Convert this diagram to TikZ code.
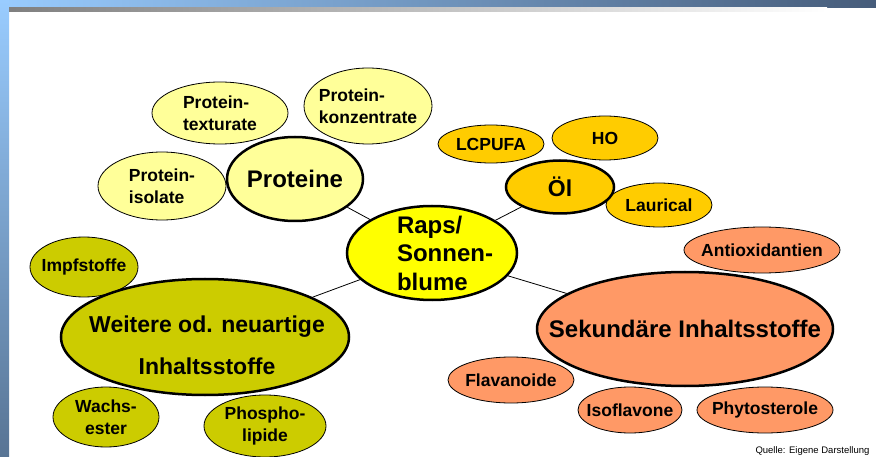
\documentclass[tikz,border=0pt]{standalone}
\usepackage{fontspec}
\setmainfont{Liberation Sans}
\usetikzlibrary{shapes.geometric}

\definecolor{framelight}{RGB}{153,204,255}
\definecolor{framedark}{RGB}{70,92,122}
\definecolor{framebottom}{RGB}{88,116,148}
\definecolor{rapsfill}{HTML}{FFFF00}
\definecolor{protfill}{HTML}{FFFF99}
\definecolor{oelfill}{HTML}{FFCC00}
\definecolor{sekfill}{HTML}{FF9966}
\definecolor{weitfill}{HTML}{CCCC00}

\tikzset{
  bubble/.style={ellipse, draw=black, line width=0.8pt, inner sep=-80pt,
    font=\bfseries\fontsize{17.5}{22}\selectfont, align=center},
  hub/.style={ellipse, draw=black, line width=2.5pt, inner sep=-80pt,
    font=\bfseries\fontsize{24}{28.5}\selectfont, align=center},
  size/.style 2 args={minimum width=#1pt, minimum height=#2pt},
  link/.style={draw=black, line width=0.8pt}
}

\begin{document}
\begin{tikzpicture}[x=1pt,y=-1pt]
            \useasboundingbox (0,0) rectangle (876,457);
            % Frame
            \shade [left color=framelight, right color=framedark] (0,0) rectangle (876,8);
            \shade [top color=framelight, bottom color=framebottom] (0,0) rectangle (9,457);
            \shade [left color=black!50, right color=white] (9,8) rectangle (827,12);

            % Proteine
            \node [bubble, fill=protfill, size={136}{62}, align=left] (texturate) at (220,113) {Protein-\\texturate};
            \node [bubble, fill=protfill, size={128}{76}, align=left] (konzentrate) at (368,106) {Protein-\\konzentrate};
            \node [bubble, fill=protfill, size={128}{68}, align=left] (isolate) at (162,186) {Protein-\\isolate};
            \node [hub, fill=protfill, size={136}{84}] (proteine) at (295,179) {Proteine};

            % Oel
            \node [bubble, fill=oelfill, size={106}{38}] (lcpufa) at (491,144) {LCPUFA};
            \node [bubble, fill=oelfill, size={106}{44}] (ho) at (605,138) {HO};
            \node [bubble, fill=oelfill, size={106}{44}] (laurical) at (659,205) {Laurical};
            \node [hub, fill=oelfill, size={108}{53}, font=\bfseries\fontsize{23}{27}\selectfont] (oel) at (560,187) {Öl};

            % Sekundaere Inhaltsstoffe
            \node [bubble, fill=sekfill, size={156}{46}] (antiox) at (762,250) {Antioxidantien};
            \node [bubble, fill=sekfill, size={126}{46}] (flavanoide) at (511,380) {Flavanoide};
            \node [bubble, fill=sekfill, size={104}{46}] (isoflavone) at (630,410) {Isoflavone};
            \node [bubble, fill=sekfill, size={136}{46}] (phytosterole) at (765,410) {Phytosterole};
            \node [hub, fill=sekfill, size={296}{114}] (sekundaer) at (685,329) {Sekundäre Inhaltsstoffe};

            % Weitere
            \node [bubble, fill=weitfill, size={108}{60}] (impfstoffe) at (84,267) {Impfstoffe};
            \node [bubble, fill=weitfill, size={106}{60}] (wachsester) at (106,417) {Wachs-\\ester};
            \node [bubble, fill=weitfill, size={122}{62}] (phospholipide) at (265,426) {Phospho-\\lipide};
            \node [hub, fill=weitfill, size={288}{116}] (weitere) at (205,337) {};
            \node [font=\bfseries\fontsize{23}{42}\selectfont, align=center] (weiteretext) at (207,345) {Weitere od. neuartige\\Inhaltsstoffe};

            % Center
            \node [hub, fill=rapsfill, size={170}{94}] (raps) at (432,253) {};
            \node [font=\bfseries\fontsize{24}{28.5}\selectfont, align=left] (rapstext) at (445,253) {Raps/\\Sonnen-\\blume};

            \draw [link] (raps) -- (proteine);
            \draw [link] (raps) -- (oel);
            \draw [link] (raps) -- (sekundaer);
            \draw [link] (raps) -- (weitere);

            \node [anchor=west, font=\fontsize{9.5}{11}\selectfont] (quelle) at (752,451) {Quelle: Eigene Darstellung};
        \end{tikzpicture}
\end{document}
